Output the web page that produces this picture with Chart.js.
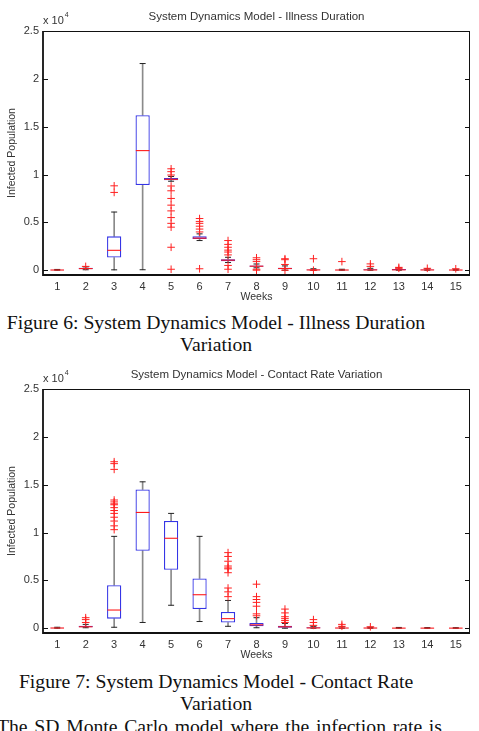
<!DOCTYPE html>
<html lang="en">
<head>
<meta charset="UTF-8">
<title>System Dynamics Model - Box Plots</title>
<script src="https://cdn.jsdelivr.net/npm/chart.js"></script>
<style>
  body { margin: 0; background: #fff; width: 479px; height: 731px; overflow: hidden; position: relative; }
  canvas.plot { position: absolute; left: 0; }
  .cap {
    position: absolute; left: 0; width: 432px; text-align: center; white-space: nowrap;
    font-family: 'Liberation Serif', 'Times New Roman', serif; font-size: 19.7px; line-height: 22.3px; color: #111;
  }
  .para {
    position: absolute; left: -3px; width: 445px; text-align: justify; text-align-last: justify; white-space: nowrap;
    font-family: 'Liberation Serif', 'Times New Roman', serif; font-size: 19.7px; line-height: 22.3px; color: #111;
  }
</style>
</head>
<body>

<canvas class="plot" id="illness" width="479" height="305" style="top:0"></canvas>
<div class="cap" style="top:311px">Figure 6: System Dynamics Model - Illness Duration<br>Variation</div>

<canvas class="plot" id="contact" width="479" height="305" style="top:358px"></canvas>
<div class="cap" style="top:670px">Figure 7: System Dynamics Model - Contact Rate<br>Variation</div>
<div class="para" style="top:715px">The SD Monte Carlo model where the infection rate is</div>

<script>
const weeks = ['1','2','3','4','5','6','7','8','9','10','11','12','13','14','15'];
const yTicks = [0, 5000, 10000, 15000, 20000, 25000];

// illness duration variation
const illLow  = [0, 50, 40, 50, 9300, 3100, 800, 250, 0, 0, 0, 0, 0, 0, 0];
const illQ1   = [0, 100, 1320, 8900, 9400, 3250, 950, 350, 100, 0, 0, 0, 0, 0, 0];
const illMed  = [20, 170, 2080, 12500, 9500, 3350, 1050, 420, 180, 30, 20, 30, 40, 30, 20];
const illQ3   = [50, 250, 3540, 16200, 9650, 3550, 1150, 500, 250, 80, 60, 100, 120, 80, 60];
const illHigh = [80, 350, 6080, 21600, 9800, 3800, 1350, 650, 450, 150, 100, 200, 250, 150, 100];
const illOut  = [
  [], [400], [8820, 8130], [],
  [10600, 10300, 9950, 8800, 8300, 7500, 6800, 6200, 5500, 4900, 4500, 2400, 100],
  [5400, 5100, 4900, 4600, 4300, 4000, 150],
  [3100, 2700, 2400, 2100, 1900, 1600, 500, 100],
  [1300, 1100, 900, 100, 0],
  [1200, 1100, 600, 0],
  [1200, 0], [900], [660, 400], [300, 200], [200], [150]
];

// contact rate variation
const conLow  = [0, 50, 100, 600, 2400, 700, 200, 50, 0, 0, 0, 0, 0, 0, 0];
const conQ1   = [0, 100, 1000, 8100, 6100, 2000, 600, 200, 50, 0, 0, 0, 0, 0, 0];
const conMed  = [20, 150, 1900, 12100, 9400, 3500, 1000, 350, 150, 30, 20, 20, 10, 10, 10];
const conQ3   = [50, 250, 4500, 14500, 11200, 5200, 1700, 550, 250, 100, 60, 50, 30, 30, 30];
const conHigh = [100, 400, 9600, 15300, 12000, 9600, 2900, 1100, 500, 200, 150, 100, 80, 60, 50];
const conOut  = [
  [], [1100, 900, 600],
  [17400, 17200, 16600, 13400, 13200, 13000, 12900, 12600, 12300, 12000, 11600, 11200, 10700, 10300],
  [], [], [],
  [7900, 7500, 7000, 6500, 6300, 6200, 5800, 4200, 3800, 3300],
  [4600, 3300, 3000, 2700, 2300, 1500, 1300],
  [2000, 1600, 1200, 1000, 800, 600],
  [900, 600, 300], [400, 200], [150], [], [], []
];

const sans = "'Liberation Sans', Arial, sans-serif";
const textCol = '#333';

// frame, inward ticks, title and exponent label
const framePlugin = {
  id: 'frame',
  afterDraw(chart, args, opts) {
    const { ctx, chartArea: a, scales: { y } } = chart;
    ctx.save();
    ctx.strokeStyle = '#111';
    ctx.lineWidth = 1;
    ctx.beginPath();
    ctx.moveTo(a.left, a.top + 0.5); ctx.lineTo(a.right - 0.5, a.top + 0.5); ctx.lineTo(a.right - 0.5, a.bottom);
    ctx.stroke();
    ctx.lineWidth = 1.8;
    ctx.beginPath();
    ctx.moveTo(a.left, a.top); ctx.lineTo(a.left, a.bottom); ctx.lineTo(a.right, a.bottom);
    ctx.stroke();
    ctx.lineWidth = 1;
    yTicks.forEach(v => {
      const py = Math.round(y.getPixelForValue(v)) + 0.5;
      ctx.beginPath();
      ctx.moveTo(a.left, py); ctx.lineTo(a.left + 5, py);
      ctx.moveTo(a.right - 5, py); ctx.lineTo(a.right, py);
      ctx.stroke();
    });
    ctx.fillStyle = textCol;
    ctx.textBaseline = 'middle';
    ctx.textAlign = 'center';
    ctx.font = '11.5px ' + sans;
    ctx.fillText(opts.title, (a.left + a.right) / 2, a.top - 14);
    ctx.textAlign = 'left';
    ctx.font = '11px ' + sans;
    ctx.fillText('x 10', a.left, a.top - 10);
    const w = ctx.measureText('x 10').width;
    ctx.font = '7px ' + sans;
    ctx.fillText('4', a.left + w + 1, a.top - 16);
    ctx.restore();
  }
};

function boxChart(id, title, low, q1, med, q3, high, out) {
  const outPts = [];
  out.forEach((vals, i) => vals.forEach(v => outPts.push({ x: weeks[i], y: v })));
  const capPts = [];
  weeks.forEach((w, i) => { capPts.push({ x: w, y: low[i] }); capPts.push({ x: w, y: high[i] }); });

  return new Chart(document.getElementById(id), {
    type: 'bar',
    data: {
      labels: weeks,
      datasets: [
        { data: weeks.map((w, i) => [low[i], q1[i]]), backgroundColor: '#8a8a8a', barThickness: 1, grouped: false, order: 5 },
        { data: weeks.map((w, i) => [q3[i], high[i]]), backgroundColor: '#8a8a8a', barThickness: 1, grouped: false, order: 4 },
        {
          data: weeks.map((w, i) => [q1[i], q3[i]]),
          backgroundColor: '#ffffff', borderColor: '#3535e6', borderWidth: 1.3, borderSkipped: false,
          barPercentage: 0.5, categoryPercentage: 1, grouped: false, order: 3
        },
        {
          type: 'line', data: capPts, showLine: false, pointStyle: 'line',
          pointRadius: 3, pointBorderColor: '#222', pointBorderWidth: 1, order: 2
        },
        {
          type: 'line', data: med.map((v, i) => ({ x: weeks[i], y: v })), showLine: false, pointStyle: 'line',
          pointRadius: 6.8, pointBorderColor: '#ff1a1a', pointBorderWidth: 1.1, order: 1
        },
        {
          type: 'line', data: outPts, showLine: false, pointStyle: 'cross',
          pointRadius: 3.8, pointBorderColor: '#ff2020', pointBorderWidth: 1, order: 0
        }
      ]
    },
    options: {
      responsive: false,
      animation: false,
      layout: { padding: { top: 31, right: 9, left: 0, bottom: 0 } },
      plugins: { legend: { display: false }, tooltip: { enabled: false }, frame: { title: title } },
      scales: {
        x: {
          offset: true,
          grid: { display: false, drawTicks: false },
          border: { display: false },
          ticks: { color: textCol, font: { family: sans, size: 11 }, padding: 5, maxRotation: 0, autoSkip: false },
          title: { display: true, text: 'Weeks', color: textCol, font: { family: sans, size: 10.5 }, padding: { top: 0, bottom: 2 } },
          afterFit: s => { s.height = 30; }
        },
        y: {
          min: -500, max: 25000,
          afterBuildTicks: s => { s.ticks = yTicks.map(v => ({ value: v })); },
          grid: { display: false, drawTicks: false },
          border: { display: false },
          ticks: { color: textCol, font: { family: sans, size: 11 }, padding: 4, callback: v => String(v / 10000) },
          title: { display: true, text: 'Infected Population', color: textCol, font: { family: sans, size: 10.5 }, padding: { top: 6, bottom: 0 } },
          afterFit: s => { s.width = 43; }
        }
      }
    },
    plugins: [framePlugin]
  });
}

boxChart('illness', 'System Dynamics Model - Illness Duration', illLow, illQ1, illMed, illQ3, illHigh, illOut);
boxChart('contact', 'System Dynamics Model - Contact Rate Variation', conLow, conQ1, conMed, conQ3, conHigh, conOut);
</script>

</body>
</html>
